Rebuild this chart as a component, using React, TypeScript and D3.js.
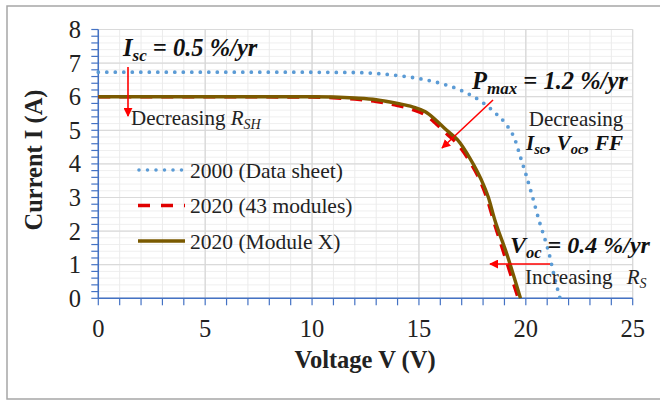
import React from "react";
import * as d3 from "d3";

const v2000 = [0, 4, 8, 12, 13, 14, 15, 16, 17, 18, 18.6, 19.1, 19.5, 19.75, 20.0, 20.3, 20.65, 20.9, 21.1, 21.3, 21.6];
const i2000 = [6.73, 6.73, 6.73, 6.72, 6.69, 6.63, 6.54, 6.4, 6.18, 5.82, 5.5, 5.16, 4.71, 4.2, 3.7, 3.05, 2.25, 1.75, 1.3, 0.74, 0];

const v2020 = [0, 5, 10, 11, 12, 13, 14, 14.7, 15.3, 15.8, 16.3, 16.8, 17.4, 17.9, 18.2, 18.5, 19.0, 19.65];
const i2020 = [6.0, 6.0, 5.99, 5.97, 5.93, 5.86, 5.74, 5.62, 5.46, 5.2, 4.9, 4.6, 4.05, 3.45, 2.95, 2.3, 1.3, 0];

const vModX = [0, 5, 10, 11, 12, 13, 14, 14.7, 15.3, 15.8, 16.3, 16.8, 17.4, 17.9, 18.25, 18.55, 19.1, 19.75];
const iModX = [6.0, 6.0, 6.0, 5.99, 5.96, 5.91, 5.8, 5.7, 5.55, 5.3, 5.0, 4.72, 4.15, 3.55, 3.0, 2.33, 1.34, 0];

const xTicks = [0, 5, 10, 15, 20, 25];
const yTicks = [0, 1, 2, 3, 4, 5, 6, 7, 8];
const legendLabels = ["2000 (Data sheet)", "2020 (43 modules)", "2020 (Module X)"];

const W = 660;
const H = 401;
const L = 98.3, R = 632.7, T = 29.5, B = 298.3;
const FONT = "'Liberation Serif', 'Times New Roman', serif";
const BLUE = "#5B9BD5";
const RED = "#E00000";
const BROWN = "#7A5A00";
const AXIS = "#4472C4";

export default function App() {
  const x = d3.scaleLinear().domain([0, 25]).range([L, R]);
  const y = d3.scaleLinear().domain([0, 8]).range([B, T]);
  const line = d3
    .line<[number, number]>()
    .x((d) => x(d[0]))
    .y((d) => y(d[1]))
    .curve(d3.curveMonotoneX);
  const zip = (a: number[], b: number[]) => a.map((v, k) => [v, b[k]] as [number, number]);

  const minorX = d3.range(0, 25.001, 1);
  const minorY = d3.range(0, 8.001, 0.2);

  const legendColors = [BLUE, RED, BROWN];
  const legendDash = ["0 8.5", "12 11", ""];
  const legendY = [170, 205.5, 241];

  return (
    <svg width={W} height={H} style={{ display: "block", position: "absolute", left: 0, top: 0 }} fontFamily={FONT}>
      <defs>
        <marker id="ah" viewBox="0 0 10 10" refX="9" refY="5" markerWidth="9" markerHeight="9" orient="auto" markerUnits="userSpaceOnUse">
          <path d="M0,0 L10,5 L0,10 z" fill="#FF0000" />
        </marker>
      </defs>
      <rect x={0} y={0} width={W} height={H} fill="#fff" />
      <rect x={7} y={6} width={700} height={393} fill="none" stroke="#a6a6a6" strokeWidth={1.5} />

      {/* minor grid */}
      {minorY.map((v, k) => (
        <line key={"my" + k} x1={L} x2={R} y1={y(v)} y2={y(v)} stroke="#efefef" strokeWidth={1} />
      ))}
      {minorX.map((v, k) => (
        <line key={"mx" + k} x1={x(v)} x2={x(v)} y1={T} y2={B} stroke="#ebebeb" strokeWidth={1} />
      ))}
      {yTicks.map((v) => (
        <line key={"gy" + v} x1={L} x2={R} y1={y(v)} y2={y(v)} stroke="#dadada" strokeWidth={1.2} />
      ))}
      {xTicks.map((v) => (
        <line key={"gx" + v} x1={x(v)} x2={x(v)} y1={T} y2={B} stroke="#d6d6d6" strokeWidth={1.2} />
      ))}

      {/* axes */}
      <line x1={L} x2={L} y1={T} y2={B} stroke={AXIS} strokeWidth={1.5} />
      <line x1={L} x2={R} y1={B} y2={B} stroke={AXIS} strokeWidth={1.5} />
      {minorY.map((v, k) => (
        <line key={"ty" + k} x1={L - 7} x2={L} y1={y(v)} y2={y(v)} stroke={AXIS} strokeWidth={1.2} />
      ))}
      {minorX.map((v, k) => (
        <line key={"tx" + k} x1={x(v)} x2={x(v)} y1={B} y2={B + 7} stroke={AXIS} strokeWidth={1.2} />
      ))}
      {yTicks.map((v) => (
        <text key={"ly" + v} x={81} y={y(v) + 8.5} textAnchor="end" fontSize={24.5} fill="#222">
          {v}
        </text>
      ))}
      {xTicks.map((v) => (
        <text key={"lx" + v} x={x(v)} y={337} textAnchor="middle" fontSize={24.5} fill="#222">
          {v}
        </text>
      ))}
      <text x={365} y={368} textAnchor="middle" fontSize={24.5} fontWeight="bold" fill="#222">
        Voltage V (V)
      </text>
      <text transform="translate(42,160) rotate(-90)" textAnchor="middle" fontSize={24.5} fontWeight="bold" fill="#222">
        Current I (A)
      </text>

      {/* curves */}
      <path d={line(zip(v2000, i2000)) || ""} fill="none" stroke={BLUE} strokeWidth={3.8} strokeDasharray="0 8.5" strokeLinecap="round" />
      <path d={line(zip(v2020, i2020)) || ""} fill="none" stroke={RED} strokeWidth={3.6} strokeDasharray="12 9" />
      <path d={line(zip(vModX, iModX)) || ""} fill="none" stroke={BROWN} strokeWidth={3.4} />

      {/* legend */}
      {legendLabels.map((lab, k) => (
        <g key={"lg" + k}>
          <line
            x1={legendColors[k] === BLUE ? 139 : 138}
            x2={185}
            y1={legendY[k]}
            y2={legendY[k]}
            stroke={legendColors[k]}
            strokeWidth={3.6}
            strokeDasharray={legendDash[k] || undefined}
            strokeLinecap={legendColors[k] === BLUE ? "round" : "butt"}
          />
          <text x={190} y={legendY[k] + 7.5} fontSize={21.5} fill="#222">
            {lab}
          </text>
        </g>
      ))}

      {/* annotations */}
      <text x={123} y={56} fontSize={24.5} fontWeight="bold" fontStyle="italic" fill="#111">
        I<tspan fontSize={17} dy={5}>sc</tspan>
        <tspan dy={-5}> = 0.5 %/yr</tspan>
      </text>
      <line x1={128} y1={67} x2={128} y2={116} stroke="#FF0000" strokeWidth={1.6} markerEnd="url(#ah)" />
      <text x={131} y={125} fontSize={21} fill="#222">
        Decreasing <tspan fontStyle="italic">R</tspan>
        <tspan fontStyle="italic" fontSize={14} dy={4}>SH</tspan>
      </text>

      <text x={472} y={89} fontSize={24.5} fontWeight="bold" fontStyle="italic" fill="#111">
        P<tspan fontSize={17} dy={5}>max</tspan>
        <tspan dy={-5}> = 1.2 %/yr</tspan>
      </text>
      <line x1={493} y1={100} x2={442} y2={148} stroke="#FF0000" strokeWidth={1.6} markerEnd="url(#ah)" />
      <text x={576} y={126} textAnchor="middle" fontSize={21} fill="#222">
        Decreasing
      </text>
      <text x={526} y={150} fontSize={21} fontWeight="bold" fontStyle="italic" fill="#111">
        I<tspan fontSize={14.5} dy={4}>sc</tspan>
        <tspan dy={-4}>, V</tspan>
        <tspan fontSize={14.5} dy={4}>oc</tspan>
        <tspan dy={-4}>, FF</tspan>
      </text>

      <text x={510} y={253} fontSize={24} fontWeight="bold" fontStyle="italic" fill="#111">
        V<tspan fontSize={16.5} dy={5}>oc</tspan>
        <tspan dy={-5}> = 0.4 %/yr</tspan>
      </text>
      <line x1={550} y1={264} x2={490} y2={264} stroke="#FF0000" strokeWidth={1.6} markerEnd="url(#ah)" />
      <text x={525} y={284} fontSize={21} fill="#222">
        Increasing <tspan fontStyle="italic" dx={9}>R</tspan>
        <tspan fontStyle="italic" fontSize={14} dy={4}>S</tspan>
      </text>
    </svg>
  );
}
